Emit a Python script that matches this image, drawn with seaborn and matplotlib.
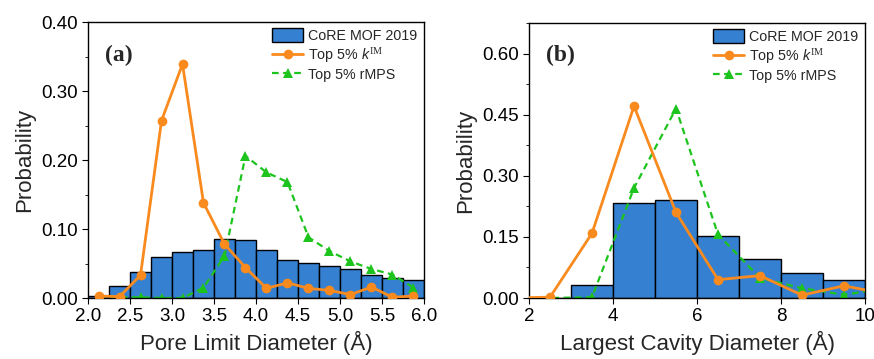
import numpy as np
import pandas as pd
import matplotlib
matplotlib.use("Agg")
import matplotlib.pyplot as plt
import matplotlib.ticker as mticker
import seaborn as sns

# ---------------------------------------------------------------------------
# Data
# ---------------------------------------------------------------------------
# (a) Pore limit diameter, bins of 0.25 A from 2.0 to 6.0
pld_edges = [2.0, 2.25, 2.5, 2.75, 3.0, 3.25, 3.5, 3.75, 4.0,
             4.25, 4.5, 4.75, 5.0, 5.25, 5.5, 5.75, 6.0]
pld_centers = [2.125, 2.375, 2.625, 2.875, 3.125, 3.375, 3.625, 3.875,
               4.125, 4.375, 4.625, 4.875, 5.125, 5.375, 5.625, 5.875]
pld_core = [0.003, 0.018, 0.038, 0.060, 0.067, 0.069, 0.086, 0.084,
            0.069, 0.055, 0.051, 0.046, 0.042, 0.034, 0.029, 0.026]
pld_kim = [0.003, 0.002, 0.033, 0.257, 0.339, 0.138, 0.078, 0.044,
           0.014, 0.022, 0.014, 0.011, 0.005, 0.016, 0.001, 0.003]
pld_rmps = [0.002, 0.001, 0.001, 0.000, 0.000, 0.015, 0.061, 0.206,
            0.182, 0.168, 0.088, 0.068, 0.053, 0.042, 0.034, 0.015]

# (b) Largest cavity diameter, bins of 1 A
lcd_edges = [2, 3, 4, 5, 6, 7, 8, 9, 10]
lcd_bar_centers = [2.5, 3.5, 4.5, 5.5, 6.5, 7.5, 8.5, 9.5]
lcd_core = [0.000, 0.031, 0.233, 0.240, 0.151, 0.095, 0.062, 0.044]
lcd_line_x = [1.5, 2.5, 3.5, 4.5, 5.5, 6.5, 7.5, 8.5, 9.5, 10.5]
lcd_kim = [0.000, 0.002, 0.159, 0.471, 0.210, 0.045, 0.055, 0.007, 0.030, 0.010]
lcd_rmps = [0.000, 0.000, 0.002, 0.270, 0.465, 0.156, 0.049, 0.024, 0.008, 0.024]

# ---------------------------------------------------------------------------
# Style
# ---------------------------------------------------------------------------
BLUE = "#3580D0"
ORANGE = "#F98A1E"
GREEN = "#1EC41E"

sns.set_style("ticks")
plt.rcParams.update({
    "font.family": ["Liberation Sans", "DejaVu Sans"],
    "font.size": 13.5,
    "axes.linewidth": 1.0,
    "axes.edgecolor": "black",
    "xtick.direction": "out",
    "ytick.direction": "out",
    "xtick.major.size": 4,
    "ytick.major.size": 4,
    "ytick.minor.size": 2.5,
    "xtick.color": "black",
    "ytick.color": "black",
    "mathtext.fontset": "custom",
    "mathtext.rm": "Liberation Serif",
    "mathtext.it": "Liberation Sans:italic",
})

fig = plt.figure(figsize=(8.74, 3.59), dpi=100)
ax_a = fig.add_axes([0.1007, 0.1699, 0.3844, 0.7688])
ax_b = fig.add_axes([0.6053, 0.1699, 0.3844, 0.7660])


def draw_panel(ax, bar_x, bar_w, edges, line_x, kim, rmps, tag):
    bars = pd.DataFrame({"x": bar_x, "w": bar_w})
    sns.histplot(data=bars, x="x", weights="w", bins=edges, stat="count",
                 color=BLUE, edgecolor="black", linewidth=1.0, alpha=1.0,
                 ax=ax, label="CoRE MOF 2019", zorder=1)
    sns.lineplot(x=line_x, y=kim, ax=ax, color=ORANGE, linewidth=2.0,
                 marker="o", markersize=7, markeredgewidth=0,
                 label=r"Top 5% $\mathit{k}^{\mathrm{IM}}$", zorder=3)
    sns.lineplot(x=line_x, y=rmps, ax=ax, color=GREEN, linewidth=1.6,
                 linestyle=(0, (3, 2)), marker="^", markersize=6.5,
                 markeredgewidth=0, label="Top 5% rMPS", zorder=2)
    handles, labels = ax.get_legend_handles_labels()
    order = [labels.index("CoRE MOF 2019")] + \
        [i for i, l in enumerate(labels) if l != "CoRE MOF 2019"]
    ax.legend([handles[i] for i in order], [labels[i] for i in order],
              loc="upper right", frameon=False, fontsize=10.3,
              handlelength=2.2, handleheight=1.1, handletextpad=0.35,
              labelspacing=0.15, borderaxespad=0.05)
    ax.text(0.05, 0.86, tag, transform=ax.transAxes, fontsize=17,
            fontweight="bold", family="Liberation Serif")
    ax.set_ylabel("Probability", fontsize=16)
    for s in ax.spines.values():
        s.set_visible(True)
        s.set_color("black")


draw_panel(ax_a, pld_centers, pld_core, pld_edges, pld_centers,
           pld_kim, pld_rmps, "(a)")
ax_a.set_xlim(2.0, 6.0)
ax_a.set_ylim(0, 0.40)
ax_a.xaxis.set_major_locator(mticker.MultipleLocator(0.5))
ax_a.yaxis.set_major_locator(mticker.MultipleLocator(0.10))
ax_a.yaxis.set_minor_locator(mticker.MultipleLocator(0.05))
ax_a.xaxis.set_major_formatter(mticker.FormatStrFormatter("%.1f"))
ax_a.yaxis.set_major_formatter(mticker.FormatStrFormatter("%.2f"))
ax_a.set_xlabel("Pore Limit Diameter (Å)", fontsize=16)

draw_panel(ax_b, lcd_bar_centers, lcd_core, lcd_edges, lcd_line_x,
           lcd_kim, lcd_rmps, "(b)")
ax_b.set_xlim(2, 10)
ax_b.set_ylim(0, 0.675)
ax_b.xaxis.set_major_locator(mticker.MultipleLocator(2))
ax_b.yaxis.set_major_locator(mticker.MultipleLocator(0.15))
ax_b.yaxis.set_minor_locator(mticker.MultipleLocator(0.075))
ax_b.yaxis.set_major_formatter(mticker.FormatStrFormatter("%.2f"))
ax_b.set_xlabel("Largest Cavity Diameter (Å)", fontsize=16)

fig.savefig("out.png", dpi=100)
